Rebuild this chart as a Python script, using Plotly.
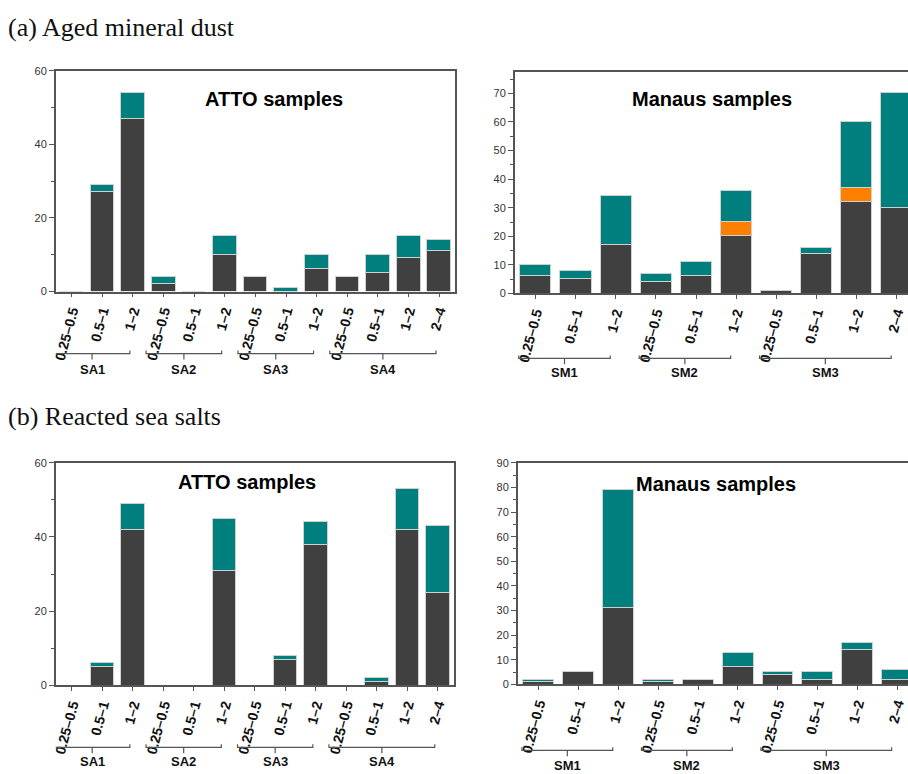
import plotly.graph_objects as go

# ---------------------------------------------------------------
# Size bins (µm) per sampling period
# ---------------------------------------------------------------
BINS3 = ["0.25–0.5", "0.5–1", "1–2"]
BINS4 = ["0.25–0.5", "0.5–1", "1–2", "2–4"]

atto_groups = ["SA1", "SA2", "SA3", "SA4"]
atto_bins = [BINS3, BINS3, BINS3, BINS4]
manaus_groups = ["SM1", "SM2", "SM3"]
manaus_bins = [BINS3, BINS3, BINS4]

atto_labels = [b for grp in atto_bins for b in grp]
manaus_labels = [b for grp in manaus_bins for b in grp]

# (a) Aged mineral dust -- particle counts
dust_atto_dark = [0, 27, 47, 2, 0, 10, 4, 0, 6, 4, 5, 9, 11]
dust_atto_teal = [0, 2, 7, 2, 0, 5, 0, 1, 4, 0, 5, 6, 3]
dust_manaus_dark = [6, 5, 17, 4, 6, 20, 1, 14, 32, 30]
dust_manaus_orange = [0, 0, 0, 0, 0, 5, 0, 0, 5, 0]
dust_manaus_teal = [4, 3, 17, 3, 5, 11, 0, 2, 23, 40]

# (b) Reacted sea salts -- particle counts
salt_atto_dark = [0, 5, 42, 0, 0, 31, 0, 7, 38, 0, 1, 42, 25]
salt_atto_teal = [0, 1, 7, 0, 0, 14, 0, 1, 6, 0, 1, 11, 18]
salt_manaus_dark = [1, 5, 31, 1, 2, 7, 4, 2, 14, 2]
salt_manaus_teal = [1, 0, 48, 1, 0, 6, 1, 3, 3, 4]

DARK = "#404040"
TEAL = "#007f7f"
ORANGE = "#ff8000"
EDGE = "#d0d0d0"
AXC = "#555555"

W, H = 908, 774


def py(px):
    """pixel row -> paper y"""
    return 1 - px / H


def px_x(px):
    return px / W


fig = go.Figure()

# panel definitions: axis suffix, x-domain px, y-domain px, y range, dtick, minor
panels = [
    dict(ax="", xd=(52, 453), yd=(66, 290), yr=(0, 60), dt=20, mn=10, mirror=True,
         labels=atto_labels, groups=atto_groups, gbins=atto_bins,
         xr=(-0.52, 12.52), bo=(-0.57, -0.1), bl=353, gl=369,
         series=[(dust_atto_dark, DARK), (dust_atto_teal, TEAL)],
         title="ATTO samples", tpos=(271, 94)),
    dict(ax="2", xd=(513, 908), yd=(67, 292), yr=(0, 77.5), dt=10, mn=5, mirror=False,
         labels=manaus_labels, groups=manaus_groups, gbins=manaus_bins,
         xr=(-0.52, 9.28), bo=(-0.42, -0.14), bl=358, gl=372,
         series=[(dust_manaus_dark, DARK), (dust_manaus_orange, ORANGE), (dust_manaus_teal, TEAL)],
         title="Manaus samples", tpos=(711, 94)),
    dict(ax="3", xd=(52, 452), yd=(464, 690), yr=(0, 60), dt=20, mn=10, mirror=True,
         labels=atto_labels, groups=atto_groups, gbins=atto_bins,
         xr=(-0.53, 12.53), bo=(-0.57, -0.1), bl=753, gl=767,
         series=[(salt_atto_dark, DARK), (salt_atto_teal, TEAL)],
         title="ATTO samples", tpos=(244, 484)),
    dict(ax="4", xd=(516, 908), yd=(464, 689), yr=(0, 90), dt=10, mn=5, mirror=False,
         labels=manaus_labels, groups=manaus_groups, gbins=manaus_bins,
         xr=(-0.525, 9.27), bo=(-0.42, -0.14), bl=756, gl=771,
         series=[(salt_manaus_dark, DARK), (salt_manaus_teal, TEAL)],
         title="Manaus samples", tpos=(715, 486)),
]

shapes = []
annotations = []

for p in panels:
    ax = p["ax"]
    xs = list(range(len(p["labels"])))
    for vals, col in p["series"]:
        fig.add_trace(go.Bar(
            x=xs, y=vals, width=0.775,
            marker=dict(color=col, line=dict(color=EDGE, width=1)),
            xaxis="x" + ax, yaxis="y" + ax, showlegend=False,
        ))

    fig.layout["xaxis" + ax] = dict(
        domain=[px_x(p["xd"][0]), px_x(p["xd"][1])],
        anchor="y" + ax, range=list(p["xr"]),
        tickmode="array", tickvals=xs,
        ticktext=[f"<b>{t}</b>" for t in p["labels"]],
        tickangle=-75, ticks="outside", ticklen=4, tickcolor=AXC,
        tickfont=dict(family="Liberation Sans", size=14, color="#111111"),
        showline=True, linecolor=AXC, linewidth=1.5, mirror=True,
        showgrid=False, zeroline=False, fixedrange=True,
    )
    fig.layout["yaxis" + ax] = dict(
        domain=[py(p["yd"][1]), py(p["yd"][0])],
        anchor="x" + ax, range=list(p["yr"]),
        dtick=p["dt"], ticks="outside", ticklen=5, tickcolor=AXC,
        minor=dict(dtick=p["mn"], ticks="outside", ticklen=3, tickcolor=AXC),
        tickfont=dict(family="Liberation Sans", size=11, color="#333333"),
        showline=True, linecolor=AXC, linewidth=1.5, mirror=p["mirror"],
        showgrid=False, zeroline=False, fixedrange=True,
    )

    # group brackets under the rotated size-bin labels
    start = 0
    for name, bins in zip(p["groups"], p["gbins"]):
        i0, i1 = start, start + len(bins) - 1
        start += len(bins)
        x0 = i0 + p["bo"][0]
        x1 = i1 + p["bo"][1]
        xm = (x0 + x1) / 2
        yl = py(p["bl"])
        yu = py(p["bl"] - 3)
        yd = py(p["bl"] + 6)
        shapes.append(dict(
            type="path", xref="x" + ax, yref="paper",
            path=f"M {x0},{yu} L {x0},{yl} L {x1},{yl} L {x1},{yu} M {xm},{yl} L {xm},{yd}",
            line=dict(color=AXC, width=1.2),
        ))
        annotations.append(dict(
            x=xm, y=py(p["gl"]), xref="x" + ax, yref="paper",
            text=f"<b>{name}</b>", showarrow=False, xanchor="center", yanchor="middle",
            font=dict(family="Liberation Sans", size=13, color="#111111"),
        ))

    annotations.append(dict(
        x=px_x(p["tpos"][0]), y=py(p["tpos"][1]), xref="paper", yref="paper",
        text=f"<b>{p['title']}</b>", showarrow=False, xanchor="center", yanchor="middle",
        font=dict(family="Liberation Sans", size=20, color="#000000"),
    ))

# section headings
for text, ypx in [("(a) Aged mineral dust", 22), ("(b) Reacted sea salts", 417)]:
    annotations.append(dict(
        x=px_x(2), y=py(ypx), xref="paper", yref="paper",
        text=text, showarrow=False, xanchor="left", yanchor="middle",
        font=dict(family="Liberation Serif", size=26, color="#111111"),
    ))

fig.update_layout(
    width=W, height=H, margin=dict(l=0, r=0, t=0, b=0),
    barmode="stack", bargap=0,
    paper_bgcolor="white", plot_bgcolor="white",
    shapes=shapes, annotations=annotations,
)

fig.write_html("out.html")
